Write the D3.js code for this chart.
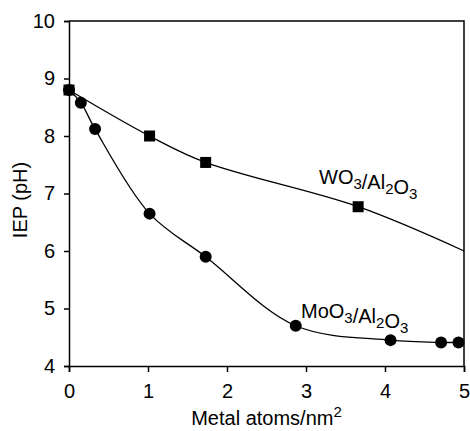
<!DOCTYPE html>
<html>
<head>
    <meta charset="utf-8" />
    <title>IEP vs metal loading</title>
    <style>
        body { margin: 0; background: #fff; }
        text { font-family: "Liberation Sans", Arial, sans-serif; fill: #000; }
    </style>
</head>
<body>
    <div id="chart"></div>
    <script src="https://cdn.jsdelivr.net/npm/d3@7"></script>
    <script>
        // values
        var moX = [0, 0.15, 0.33, 1.02, 1.73, 2.87, 4.07, 4.71, 4.93];
        var moY = [8.8, 8.58, 8.12, 6.65, 5.9, 4.7, 4.45, 4.41, 4.41];
        var wX = [0, 1.02, 1.73, 3.66];
        var wY = [8.8, 8.0, 7.54, 6.77];
        // the fitted WO3 line runs on to the right edge
        var wLineX = [0, 1.02, 1.73, 3.66, 5];
        var wLineY = [8.8, 8.0, 7.54, 6.77, 6.0];
        var xTicks = [0, 1, 2, 3, 4, 5];
        var yTicks = [4, 5, 6, 7, 8, 9, 10];

        var width = 470, height = 431;
        var margin = { top: 21, right: 6, bottom: 65, left: 69 };
        var fs = 20;

        var svg = d3.select("#chart").append("svg")
            .attr("width", width)
            .attr("height", height);

        var x = d3.scaleLinear().domain([0, 5]).range([margin.left, width - margin.right]);
        var y = d3.scaleLinear().domain([4, 10]).range([height - margin.bottom, margin.top]);

        var mo = moX.map((v, i) => [v, moY[i]]);
        var w = wX.map((v, i) => [v, wY[i]]);
        var wLine = wLineX.map((v, i) => [v, wLineY[i]]);

        // frame (top + right)
        svg.append("path")
            .attr("fill", "none")
            .attr("stroke", "#000")
            .attr("stroke-width", 1.5)
            .attr("d", `M${x(0)},${y(10)}H${x(5)}V${y(4)}`);

        var xAxis = svg.append("g")
            .attr("transform", `translate(0,${y(4)})`)
            .call(d3.axisBottom(x).tickValues(xTicks).tickSize(6).tickPadding(12).tickFormat(d3.format("d")));
        var yAxis = svg.append("g")
            .attr("transform", `translate(${x(0)},0)`)
            .call(d3.axisLeft(y).tickValues(yTicks).tickSize(5).tickPadding(9).tickFormat(d3.format("d")));

        [xAxis, yAxis].forEach(g => {
            g.select(".domain").attr("stroke-width", 1.5);
            g.selectAll(".tick line").attr("stroke-width", 1.5);
            g.selectAll("text").attr("font-size", fs).attr("font-family", "Liberation Sans, Arial, sans-serif");
        });

        var line = d3.line()
            .x(d => x(d[0]))
            .y(d => y(d[1]))
            .curve(d3.curveCatmullRom.alpha(0.5));

        svg.append("path")
            .datum(mo)
            .attr("fill", "none")
            .attr("stroke", "#000")
            .attr("stroke-width", 1.3)
            .attr("d", line);

        svg.append("path")
            .datum(wLine)
            .attr("fill", "none")
            .attr("stroke", "#000")
            .attr("stroke-width", 1.3)
            .attr("d", line);

        svg.append("g")
            .selectAll("circle")
            .data(mo)
            .join("circle")
            .attr("cx", d => x(d[0]))
            .attr("cy", d => y(d[1]))
            .attr("r", 6)
            .attr("fill", "#000");

        var sq = 11;
        svg.append("g")
            .selectAll("rect")
            .data(w)
            .join("rect")
            .attr("x", d => x(d[0]) - sq / 2)
            .attr("y", d => y(d[1]) - sq / 2)
            .attr("width", sq)
            .attr("height", sq)
            .attr("fill", "#000");

        // labels with subscripts
        function chem(parts, px, py) {
            var t = svg.append("text")
                .attr("x", px)
                .attr("y", py)
                .attr("font-size", fs);
            parts.forEach(p => {
                if (p.sub) {
                    t.append("tspan").attr("dy", 5).attr("font-size", 15).text(p.s);
                    t.append("tspan").attr("dy", -5).text("");
                } else {
                    t.append("tspan").text(p.s);
                }
            });
        }
        chem([{ s: "WO" }, { s: "3", sub: true }, { s: "/Al" }, { s: "2", sub: true }, { s: "O" }, { s: "3", sub: true }], 319, 184);
        chem([{ s: "MoO" }, { s: "3", sub: true }, { s: "/Al" }, { s: "2", sub: true }, { s: "O" }, { s: "3", sub: true }], 301, 318);

        var xt = svg.append("text")
            .attr("x", (x(0) + x(5)) / 2)
            .attr("y", 425)
            .attr("text-anchor", "middle")
            .attr("font-size", fs);
        xt.append("tspan").text("Metal atoms/nm");
        xt.append("tspan").attr("dy", -8).attr("font-size", 15).text("2");

        svg.append("text")
            .attr("transform", `translate(27,200) rotate(-90)`)
            .attr("text-anchor", "middle")
            .attr("font-size", fs)
            .text("IEP (pH)");
    </script>
</body>
</html>
